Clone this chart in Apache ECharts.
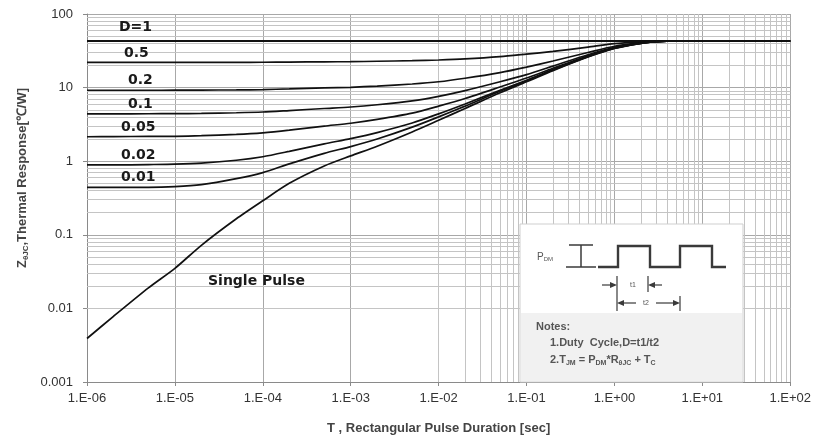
<!DOCTYPE html>
<html>
<head>
<meta charset="utf-8">
<script src="https://cdn.jsdelivr.net/npm/echarts@6/dist/echarts.min.js"></script>
<style>
  html, body { margin: 0; padding: 0; background: #fff; }
  #chart { width: 814px; height: 444px; }
</style>
</head>
<body>
<div id="chart"></div>
<script>
// Rectangular pulse duration [sec]
const pulseDurations = [1e-6, 2e-6, 5e-6, 1e-5, 2e-5, 5e-5, 1e-4, 2e-4, 5e-4, 1e-3, 2e-3, 5e-3,
                        1e-2, 2e-2, 5e-2, 1e-1, 2e-1, 5e-1, 1, 2, 3, 5, 10, 100];

// Transient thermal impedance Z_thJC [°C/W] for each duty cycle
const zDuty1   = [43, 43, 43, 43, 43, 43, 43, 43, 43, 43, 43, 43, 43, 43, 43, 43, 43, 43, 43, 43, 43, 43, 43, 43];
const zDuty05  = [22, 22, 22, 22, 22, 22.05, 22.1, 22.2, 22.4, 22.5, 22.8, 23.2, 23.7, 24.5, 26.3, 28.5, 31, 35.5, 39.5, 41.8, 42.6, 43, 43, 43];
const zDuty02  = [9.2, 9.2, 9.2, 9.22, 9.25, 9.3, 9.4, 9.6, 9.9, 10.1, 10.5, 11.2, 12, 13.4, 16, 19, 23, 30, 36.5, 40.8, 42.3, 43, 43, 43];
const zDuty01  = [4.4, 4.4, 4.41, 4.43, 4.46, 4.55, 4.66, 4.88, 5.2, 5.45, 5.85, 6.6, 7.6, 9.1, 12, 15, 19.6, 28, 35.3, 40.4, 42.2, 43, 43, 43];
const zDuty005 = [2.15, 2.16, 2.17, 2.18, 2.22, 2.31, 2.43, 2.64, 3.0, 3.28, 3.7, 4.5, 5.6, 7.1, 10.2, 13.5, 18.3, 27, 34.8, 40.2, 42.1, 43, 43, 43];
const zDuty002 = [0.89, 0.89, 0.9, 0.91, 0.94, 1.03, 1.15, 1.36, 1.72, 2.03, 2.45, 3.3, 4.4, 6.0, 9.2, 12.6, 17.6, 26.5, 34.4, 40, 42, 43, 43, 43];
const zDuty001 = [0.44, 0.44, 0.44, 0.45, 0.48, 0.58, 0.7, 0.92, 1.28, 1.58, 2.0, 2.9, 4.0, 5.6, 8.9, 12.3, 17.3, 26.3, 34.2, 40, 42, 43, 43, 43];
const zSingle  = [0.0039, 0.0078, 0.019, 0.035, 0.072, 0.165, 0.29, 0.5, 0.86, 1.18, 1.6, 2.5, 3.6, 5.2, 8.5, 12, 17, 26, 34, 40, 42, 43, 43, 43];

const curveNames = ['D=1', '0.5', '0.2', '0.1', '0.05', '0.02', '0.01', 'Single Pulse'];
const curveValues = [zDuty1, zDuty05, zDuty02, zDuty01, zDuty005, zDuty002, zDuty001, zSingle];

// Axis ranges (decades)
const xMinExp = -6, xMaxExp = 2;
const yMinExp = -3, yMaxExp = 2;

// Minor log grid positions: 2..9 × 10^n inside each decade
function minorGrid(lo, hi) {
  const out = [];
  for (let e = lo; e < hi; e++) {
    for (let m = 2; m <= 9; m++) out.push(+(m * Math.pow(10, e)).toPrecision(3));
  }
  return out;
}
const xMinor = minorGrid(xMinExp, xMaxExp);
const yMinor = minorGrid(yMinExp, yMaxExp);

const tickFont = 'Liberation Sans, Arial, sans-serif';

function fmtX(v) {
  const e = Math.round(Math.log10(v));
  return '1.E' + (e < 0 ? '-' : '+') + String(Math.abs(e)).padStart(2, '0');
}
function fmtY(v) {
  const e = Math.round(Math.log10(v));
  return e >= 0 ? String(Math.pow(10, e)) : Math.pow(10, e).toFixed(-e);
}

const curveSeries = curveValues.map((vals, i) => ({
  name: curveNames[i],
  type: 'line',
  data: pulseDurations.map((t, k) => [t, vals[k]]),
  showSymbol: false,
  smooth: 0.25,
  z: 5,
  lineStyle: { color: '#111', width: i === 0 ? 2 : 1.7 },
  silent: true
}));

const gridSeries = {
  type: 'line',
  data: [],
  z: 1,
  silent: true,
  markLine: {
    silent: true,
    symbol: ['none', 'none'],
    animation: false,
    label: { show: false },
    lineStyle: { color: '#c4c4c4', width: 1, type: 'solid' },
    data: xMinor.map(v => ({ xAxis: v })).concat(yMinor.map(v => ({ yAxis: v })))
  }
};

const labelStyle = { fontFamily: 'DejaVu Sans, sans-serif', fontWeight: 'bold', fontSize: 14, fill: '#1a1a1a' };
function curveLabel(text, x, y) {
  return { type: 'text', x: x, y: y, z: 50, style: Object.assign({ text: text, verticalAlign: 'middle' }, labelStyle) };
}

// Inset: pulse waveform sketch and notes
const ink = '#3a3a3a';
const insetZ = 60;
function seg(x1, y1, x2, y2, w) {
  return { type: 'line', z: insetZ, shape: { x1, y1, x2, y2 }, style: { stroke: ink, lineWidth: w || 1.2 } };
}
function head(x, y, dir) {
  // arrow head pointing right (dir=1) or left (dir=-1)
  return { type: 'polygon', z: insetZ, shape: { points: [[x, y], [x - dir * 7, y - 3], [x - dir * 7, y + 3]] }, style: { fill: ink } };
}
const insetParts = [
  { type: 'rect', z: insetZ - 1, shape: { x: 520, y: 224, width: 223, height: 158 }, style: { fill: '#ffffff', stroke: '#cfcfcf', lineWidth: 1 } },
  { type: 'rect', z: insetZ - 1, shape: { x: 521, y: 313, width: 221, height: 68 }, style: { fill: '#f1f1f1' } },
  { type: 'text', z: insetZ, x: 537, y: 257, style: { text: '{p|P}{s|DM}', verticalAlign: 'middle', rich: { p: { fontSize: 10, fill: '#555', fontFamily: tickFont }, s: { fontSize: 6, fill: '#555', verticalAlign: 'bottom', fontFamily: tickFont } } } },
  // I-beam amplitude marker
  seg(581, 245, 581, 267, 1.5),
  seg(569, 245, 593, 245, 1.5),
  seg(566, 267, 596, 267, 1.5),
  // square pulse train
  { type: 'polyline', z: insetZ, shape: { points: [[598, 267], [618, 267], [618, 246], [650, 246], [650, 267], [680, 267], [680, 246], [712, 246], [712, 267], [726, 267]] }, style: { stroke: ink, lineWidth: 2.4, fill: null } },
  // t1 / t2 markers
  seg(617, 276, 617, 311, 1.2),
  seg(648, 276, 648, 292, 1.2),
  seg(680, 296, 680, 311, 1.2),
  seg(602, 285, 612, 285, 1.2), head(617, 285, 1),
  seg(653, 285, 662, 285, 1.2), head(648, 285, -1),
  { type: 'text', z: insetZ, x: 633, y: 285, style: { text: 't1', fontSize: 7, fill: '#555', align: 'center', verticalAlign: 'middle', fontFamily: tickFont } },
  seg(622, 303, 636, 303, 1.2), head(617, 303, -1),
  seg(656, 303, 675, 303, 1.2), head(680, 303, 1),
  { type: 'text', z: insetZ, x: 646, y: 303, style: { text: 't2', fontSize: 7, fill: '#555', align: 'center', verticalAlign: 'middle', fontFamily: tickFont } },
  // notes
  { type: 'text', z: insetZ, x: 536, y: 327, style: { text: 'Notes:', fontSize: 11, fontWeight: 'bold', fill: '#555', verticalAlign: 'middle', fontFamily: tickFont } },
  { type: 'text', z: insetZ, x: 550, y: 343, style: { text: '1.Duty  Cycle,D=t1/t2', fontSize: 11, fontWeight: 'bold', fill: '#555', verticalAlign: 'middle', fontFamily: tickFont } },
  { type: 'text', z: insetZ, x: 550, y: 360, style: {
      text: '{a|2.T}{s|JM}{a| = P}{s|DM}{a|*R}{s|θJC}{a| + T}{s|C}',
      verticalAlign: 'middle',
      rich: {
        a: { fontSize: 11, fontWeight: 'bold', fill: '#555', fontFamily: tickFont, lineHeight: 14 },
        s: { fontSize: 7, fontWeight: 'bold', fill: '#555', fontFamily: tickFont, verticalAlign: 'bottom', lineHeight: 14 }
      }
  } }
];

const yTitle = {
  type: 'text',
  x: 22, y: 178,
  rotation: Math.PI / 2,
  z: 50,
  style: {
    text: '{a|Z}{s|θJC}{a|,Thermal Response[℃/W]}',
    align: 'center',
    verticalAlign: 'middle',
    rich: {
      a: { fontSize: 13, fontWeight: 'bold', fill: '#444', fontFamily: tickFont, lineHeight: 16 },
      s: { fontSize: 8, fontWeight: 'bold', fill: '#444', fontFamily: tickFont, verticalAlign: 'bottom', lineHeight: 16 }
    }
  }
};

const chart = echarts.init(document.getElementById('chart'), null, { renderer: 'canvas' });
chart.setOption({
  animation: false,
  backgroundColor: '#ffffff',
  grid: { left: 87, right: 23, top: 14, bottom: 62, containLabel: false },
  xAxis: {
    type: 'log',
    logBase: 10,
    min: Math.pow(10, xMinExp),
    max: Math.pow(10, xMaxExp),
    interval: 1,
    name: 'T , Rectangular Pulse Duration [sec]',
    nameLocation: 'middle',
    nameGap: 40,
    nameTextStyle: { fontSize: 13, fontWeight: 'bold', color: '#444', fontFamily: tickFont },
    axisLine: { lineStyle: { color: '#8a8a8a', width: 1 } },
    axisTick: { show: true, length: 4, lineStyle: { color: '#8a8a8a' } },
    axisLabel: { formatter: fmtX, fontSize: 13, color: '#333', margin: 10, fontFamily: tickFont },
    splitLine: { show: true, lineStyle: { color: '#a8a8a8', width: 1 } }
  },
  yAxis: {
    type: 'log',
    logBase: 10,
    min: Math.pow(10, yMinExp),
    max: Math.pow(10, yMaxExp),
    interval: 1,
    axisLine: { show: true, lineStyle: { color: '#8a8a8a', width: 1 } },
    axisTick: { show: true, length: 4, lineStyle: { color: '#8a8a8a' } },
    axisLabel: { formatter: fmtY, fontSize: 13, color: '#333', margin: 14, fontFamily: tickFont },
    splitLine: { show: true, lineStyle: { color: '#a8a8a8', width: 1 } }
  },
  series: [gridSeries].concat(curveSeries),
  graphic: [
    curveLabel('D=1', 119, 27),
    curveLabel('0.5', 124, 53),
    curveLabel('0.2', 128, 80),
    curveLabel('0.1', 128, 104),
    curveLabel('0.05', 121, 127),
    curveLabel('0.02', 121, 155),
    curveLabel('0.01', 121, 177),
    curveLabel('Single Pulse', 208, 281),
    yTitle
  ].concat(insetParts)
});
</script>
</body>
</html>
